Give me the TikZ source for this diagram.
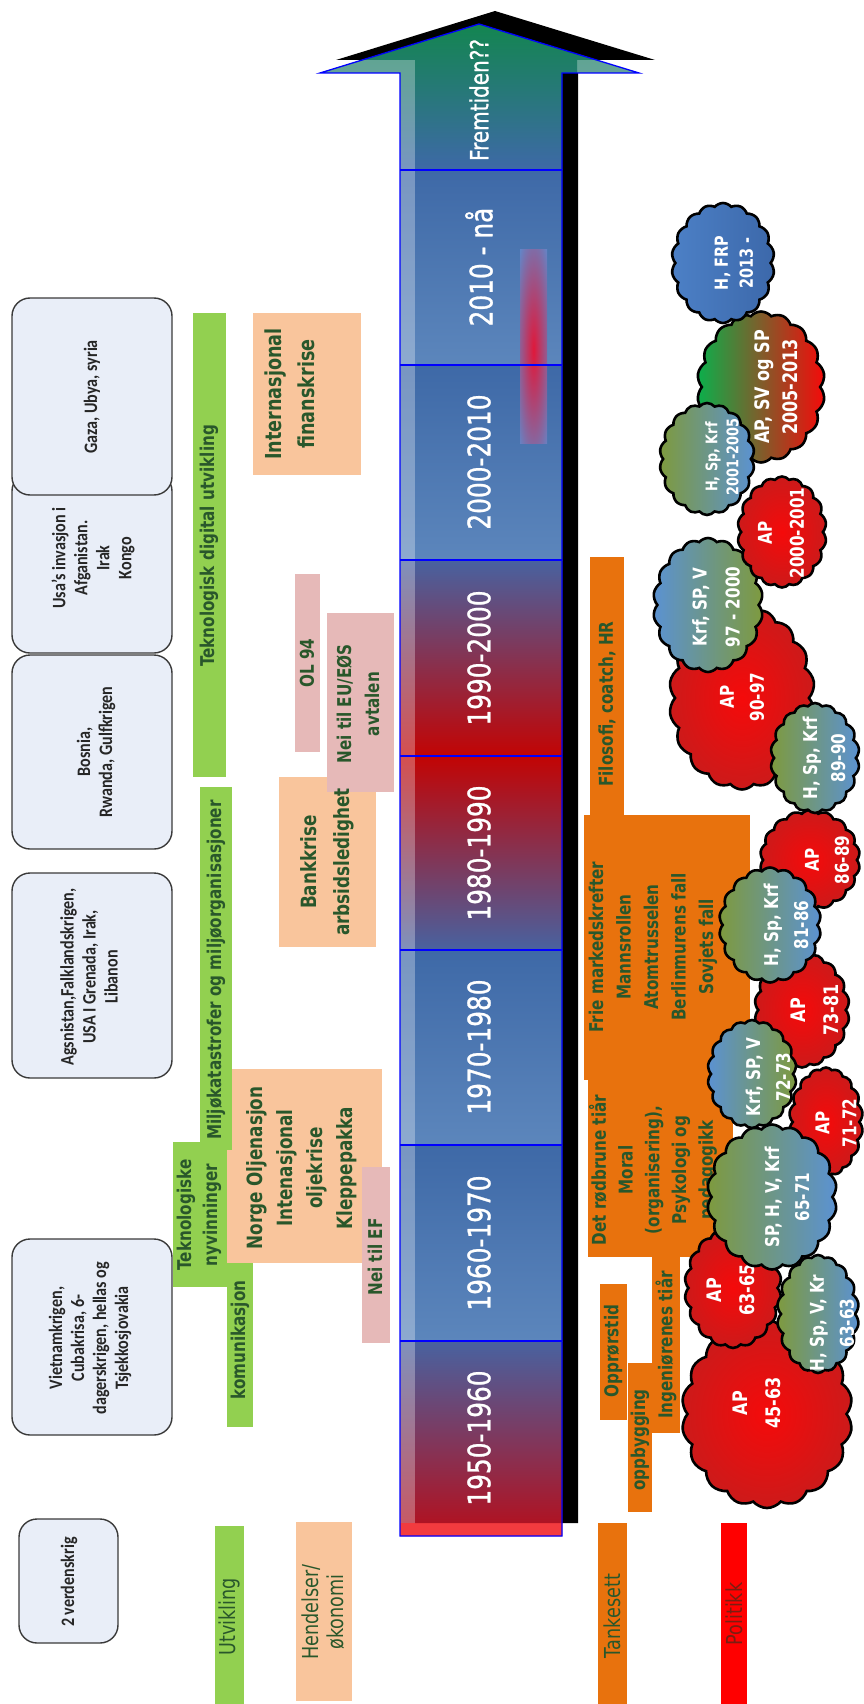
\documentclass[tikz,border=0pt]{standalone}
\usepackage{fontspec}
\setmainfont{DejaVu Sans}
\newfontfamily\boxfont{Carlito}
\newfontfamily\yearfont[FakeBold=1]{DejaVu Sans}
\usetikzlibrary{shapes.symbols}

\definecolor{boxfill}{HTML}{E9EEF8}
\definecolor{boxline}{HTML}{3A3A3A}
\definecolor{devgreen}{HTML}{92D050}
\definecolor{peach}{HTML}{F9C59C}
\definecolor{rose}{HTML}{E6B9B8}
\definecolor{mindset}{HTML}{E8720D}
\definecolor{polred}{HTML}{FF0000}
\definecolor{labtext}{HTML}{29572B}
\definecolor{poltext}{HTML}{7A1E12}
\definecolor{eraBlue}{HTML}{3E69A7}
\definecolor{eraBlueLt}{HTML}{5C86BC}
\definecolor{eraRed}{HTML}{C20404}
\definecolor{eraMid}{HTML}{4862A0}
\definecolor{eraDeep}{HTML}{B80C18}
\definecolor{eraGreen}{HTML}{0C8A42}
\definecolor{edge}{HTML}{0000FF}
\definecolor{strip}{HTML}{F23B3F}
\definecolor{glowblue}{HTML}{5B8CD0}
\definecolor{glowred}{HTML}{E0183A}
\definecolor{apred}{HTML}{F50A0A}
\definecolor{apredDk}{HTML}{CC1A1A}
\definecolor{olive}{HTML}{7E9A3E}
\definecolor{skyblue}{HTML}{5B92D2}
\definecolor{leaf}{HTML}{0BAF4B}
\definecolor{frpblue}{HTML}{4C80C6}
\definecolor{frpblueDk}{HTML}{3C68AA}

\begin{document}
\begin{tikzpicture}[x=1pt,y=-1pt,
  rottext/.style={rotate=90, xscale=.8, align=center, inner sep=0pt},
  yearlbl/.style={rottext, text=white, font=\yearfont\fontsize{31}{37}\selectfont},
  rowlbl/.style={rottext, text=labtext, font=\fontsize{22}{25}\selectfont},
  barlbl/.style={rottext, text=labtext, font=\bfseries\fontsize{19}{27}\selectfont},
  worldlbl/.style={rottext, xscale=1.06, text=black!85, font=\boxfont\bfseries\fontsize{19}{22}\selectfont},
  cloudlbl/.style={rottext, text=white, font=\bfseries\fontsize{19}{30}\selectfont},
  worldbox/.style={draw=boxline, fill=boxfill, line width=1.4pt, rounded corners=18pt},
  polcloud/.style={cloud, cloud puffs=18, cloud puff arc=100, cloud ignores aspect,
                   inner sep=0pt, draw=black, line width=2.6pt},
  apcloud/.style={polcloud, inner color=apred, outer color=apredDk},
  coalA/.style={polcloud, left color=olive, right color=skyblue},
  coalB/.style={polcloud, left color=skyblue, right color=olive},
  redgreen/.style={polcloud, left color=leaf, right color=apred},
  bluecloud/.style={polcloud, left color=frpblue, right color=frpblueDk}
]
\useasboundingbox (0,0) rectangle (864,1704);

% ---------- time arrow ----------
\fill[black, shift={(16,-13)}] (479,24) -- (639,73) -- (562,73) -- (562,1536)
  -- (400,1536) -- (400,73) -- (320,73) -- cycle;
\begin{scope}
  \clip (479,24) -- (639,73) -- (562,73) -- (562,1536) -- (400,1536) -- (400,73) -- (320,73) -- cycle;
  \shade[top color=eraGreen, bottom color=eraBlue] (300,0) rectangle (660,170);
  \shade[top color=eraBlue, bottom color=eraBlueLt] (380,170) rectangle (600,365);
  \shade[top color=eraBlue, bottom color=eraBlueLt] (380,365) rectangle (600,560);
  \shade[top color=eraMid, bottom color=eraRed] (380,560) rectangle (600,756);
  \shade[top color=eraRed, bottom color=eraMid] (380,756) rectangle (600,950);
  \shade[top color=eraBlue, bottom color=eraBlueLt] (380,950) rectangle (600,1145);
  \shade[top color=eraBlue, bottom color=eraBlueLt] (380,1145) rectangle (600,1341);
  \shade[top color=eraMid, bottom color=eraDeep] (380,1341) rectangle (600,1540);
  \fill[white, opacity=.3] (300,0) rectangle (660,1540);
  \fill[strip] (380,1523) rectangle (600,1540);
  \begin{scope}
    \clip[shift={(15,-13)}] (479,24) -- (639,73) -- (562,73) -- (562,1536)
      -- (400,1536) -- (400,73) -- (320,73) -- cycle;
    \shade[top color=eraGreen, bottom color=eraBlue] (300,0) rectangle (660,170);
    \shade[top color=eraBlue, bottom color=eraBlueLt] (380,170) rectangle (600,365);
    \shade[top color=eraBlue, bottom color=eraBlueLt] (380,365) rectangle (600,560);
    \shade[top color=eraMid, bottom color=eraRed] (380,560) rectangle (600,756);
    \shade[top color=eraRed, bottom color=eraMid] (380,756) rectangle (600,950);
    \shade[top color=eraBlue, bottom color=eraBlueLt] (380,950) rectangle (600,1145);
    \shade[top color=eraBlue, bottom color=eraBlueLt] (380,1145) rectangle (600,1341);
    \shade[top color=eraMid, bottom color=eraDeep] (380,1341) rectangle (600,1540);
  \end{scope}
\end{scope}
% red glow across 2010
\begin{scope}
  \clip (520,250) rectangle (547,443);
  \fill[glowblue] (520,250) rectangle (547,443);
  \shade[inner color=glowred, outer color=glowblue] (533.5,350) ellipse [x radius=22, y radius=140];
\end{scope}
\draw[edge, line width=1.3pt] (479,24) -- (639,73) -- (562,73) -- (562,1536)
  -- (400,1536) -- (400,73) -- (320,73) -- cycle;
\foreach \yy in {170,365,560,756,950,1145,1341}
  \draw[edge, line width=1.3pt] (400,\yy) -- (562,\yy);

\node[yearlbl, font=\yearfont\fontsize{25}{30}\selectfont] (future) at (479,100) {Fremtiden??};
\node[yearlbl] (y2010) at (479,267) {2010 - nå};
\node[yearlbl] (y2000) at (479,462) {2000-2010};
\node[yearlbl] (y1990) at (479,658) {1990-2000};
\node[yearlbl] (y1980) at (479,853) {1980-1990};
\node[yearlbl] (y1970) at (479,1047) {1970-1980};
\node[yearlbl] (y1960) at (479,1243) {1960-1970};
\node[yearlbl] (y1950) at (479,1438) {1950-1960};

% ---------- wars / world events ----------
\draw[worldbox] (12,473) rectangle (172,653);
\draw[worldbox] (12,298) rectangle (172,495);
\draw[worldbox] (12,655) rectangle (172,849);
\draw[worldbox] (12,873) rectangle (172,1078);
\draw[worldbox] (12,1239) rectangle (172,1435);
\draw[worldbox] (19,1519) rectangle (118,1643);
\node[worldlbl] (gaza) at (92,397) {Gaza, Ubya, syria};
\node[worldlbl] (usa) at (93,558) {Usa’s invasjon i\\Afganistan.\\Irak\\Kongo};
\node[worldlbl] (bosnia) at (96,752) {Bosnia,\\Rwanda, Gulfkrigen};
\node[worldlbl] (agsn) at (89,977) {Agsnistan,Falklandskrigen,\\USA I Grenada, Irak,\\Libanon};
\node[worldlbl] (vietnam) at (90,1338) {Vietnamkrigen,\\Cubakrisa, 6-\\dagerskrigen, hellas og\\Tsjekkosjovakia};
\node[worldlbl] (ww2) at (69,1582) {2 verdenskrig};

% ---------- events / economy ----------
\fill[peach] (253,313) rectangle (361,475);
\fill[peach] (227,1069) rectangle (382,1263);
\fill[peach] (279,777) rectangle (376,947);
\fill[peach] (296,1522) rectangle (352,1701);
\fill[rose] (295,574) rectangle (320,752);
\fill[rose] (327,613) rectangle (394,792);
\fill[rose] (362,1167) rectangle (390,1343);

% ---------- development ----------
\fill[devgreen] (193,313) rectangle (226,777);
\fill[devgreen] (200,787) rectangle (232,1150);
\fill[devgreen] (173,1142) rectangle (227,1287);
\fill[devgreen] (227,1263) rectangle (253,1427);
\fill[devgreen] (215,1526) rectangle (244,1704);

\node[barlbl] (tekdig) at (209,546) {Teknologisk digital utvikling};
\node[barlbl] (miljo) at (216,970) {Miljøkatastrofer og miljøorganisasjoner};
\node[barlbl, font=\bfseries\fontsize{19}{26}\selectfont] (teknyv) at (199,1215) {Teknologiske\\nyvinninger};
\node[barlbl] (komm) at (240,1340) {komunikasjon};
\node[rowlbl] (utv) at (229,1617) {Utvikling};

\node[barlbl, font=\bfseries\fontsize{22}{33}\selectfont] (finans) at (290,394) {Internasjonal\\finanskrise};
\node[barlbl, font=\bfseries\fontsize{21}{30}\selectfont] (olje) at (302,1168) {Norge Oljenasjon\\Intenasjonal\\oljekrise\\Kleppepakka};
\node[barlbl, font=\bfseries\fontsize{21}{33}\selectfont] (bank) at (327,862) {Bankkrise\\arbsidsledighet};
\node[rowlbl] (hend) at (323,1612) {Hendelser/\\økonomi};
\node[barlbl] (ol94) at (307,663) {OL 94};
\node[barlbl, font=\bfseries\fontsize{19}{28}\selectfont] (eos) at (358,704) {Nei til EU/EØS\\avtalen};
\node[barlbl] (ef) at (375,1257) {Nei til EF};

% ---------- mindset ----------
\fill[mindset] (590,557) rectangle (624,816);
\fill[mindset] (584,815) rectangle (750,1080);
\fill[mindset] (588,1079) rectangle (733,1257);
\fill[mindset] (600,1284) rectangle (627,1420);
\fill[mindset] (652,1257) rectangle (680,1433);
\fill[mindset] (628,1363) rectangle (652,1512);
\fill[mindset] (598,1523) rectangle (627,1704);
\fill[polred] (721,1523) rectangle (747,1704);

\node[barlbl] (filo) at (607,704) {Filosofi, coatch, HR};
\node[barlbl, font=\bfseries\fontsize{19}{27.5}\selectfont] (frie) at (653,947)
  {Frie markedskrefter\\Mannsrollen\\Atomtrusselen\\Berlinmurens fall\\Sovjets fall};
\node[barlbl, font=\bfseries\fontsize{19}{26.8}\selectfont] (rodbrun) at (653,1170)
  {Det rødbrune tiår\\Moral\\(organisering),\\Psykologi og\\pedagogikk};
\node[barlbl] (oppror) at (613,1351) {Opprørstid};
\node[barlbl] (ingen) at (666,1345) {Ingeniørenes tiår};
\node[barlbl] (oppbyg) at (640,1440) {oppbygging};
\node[rowlbl] (tank) at (612,1616) {Tankesett};
\node[rowlbl, text=poltext] (polit) at (734,1614) {Politikk};

% ---------- governments ----------
\node[apcloud, minimum width=171, minimum height=188] (c1) at (767,1414) {};
\node[cloudlbl, font=\bfseries\fontsize{20}{33}\selectfont] (t1) at (757,1403) {AP\\45-63};
\node[apcloud, minimum width=97, minimum height=120] (c2) at (733,1288) {};
\node[cloudlbl, font=\bfseries\fontsize{20}{33}\selectfont] (t2) at (731,1290) {AP\\63-65};
\node[coalA, minimum width=82, minimum height=118] (c3) at (818,1314) {};
\node[cloudlbl] (t3) at (832,1323) {H, Sp, V, Kr\\63-63};
\node[apcloud, minimum width=74, minimum height=109] (c5) at (826,1122) {};
\node[cloudlbl, font=\bfseries\fontsize{19}{27}\selectfont] (t5) at (836,1123) {AP\\71-72};
\node[apcloud, minimum width=95, minimum height=115] (c7) at (802,1010) {};
\node[cloudlbl, font=\bfseries\fontsize{20}{33}\selectfont] (t7) at (815,1010) {AP\\73-81};
\node[coalB, minimum width=89, minimum height=108] (c6) at (752,1074) {};
\node[cloudlbl] (t6) at (768,1077) {Krf, SP, V\\72-73};
\node[coalA, minimum width=130, minimum height=145] (c4) at (772,1197) {};
\node[cloudlbl] (t4) at (787,1197) {SP, H, V, Krf\\65-71};
\node[apcloud, minimum width=100, minimum height=100] (c9) at (810,860) {};
\node[cloudlbl] (t9) at (827,860) {AP\\86-89};
\node[coalA, minimum width=102, minimum height=115] (c8) at (770,925) {};
\node[cloudlbl] (t8) at (786,925) {H, Sp, Krf\\81-86};
\node[apcloud, minimum width=146, minimum height=183] (c11) at (742,698) {};
\node[cloudlbl] (t11) at (742,697) {AP\\90-97};
\node[coalA, minimum width=89, minimum height=110] (c10) at (815,758) {};
\node[cloudlbl, font=\bfseries\fontsize{19}{28}\selectfont] (t10) at (824,758) {H, Sp, Krf\\89-90};
\node[coalB, minimum width=110, minimum height=134] (c12) at (708,605) {};
\node[cloudlbl, font=\bfseries\fontsize{19}{33}\selectfont] (t12) at (716,607) {Krf, SP, V\\97 - 2000};
\node[redgreen, minimum width=128, minimum height=151] (c15) at (761,387) {};
\node[cloudlbl, font=\bfseries\fontsize{20}{28}\selectfont] (t15) at (776,387) {AP, SV og SP\\2005-2013};
\node[coalA, minimum width=95, minimum height=112] (c14) at (707,459) {};
\node[cloudlbl, font=\bfseries\fontsize{16}{21}\selectfont] (t14) at (722,457) {H, Sp, Krf\\2001-2005};
\node[apcloud, minimum width=89, minimum height=111] (c13) at (782,532) {};
\node[cloudlbl, font=\bfseries\fontsize{19}{32}\selectfont] (t13) at (781,533) {AP\\2000-2001};
\node[bluecloud, minimum width=103, minimum height=120] (c16) at (723,263) {};
\node[cloudlbl, font=\bfseries\fontsize{18}{25}\selectfont] (t16) at (734,263) {H, FRP\\2013 -};

\end{tikzpicture}
\end{document}
